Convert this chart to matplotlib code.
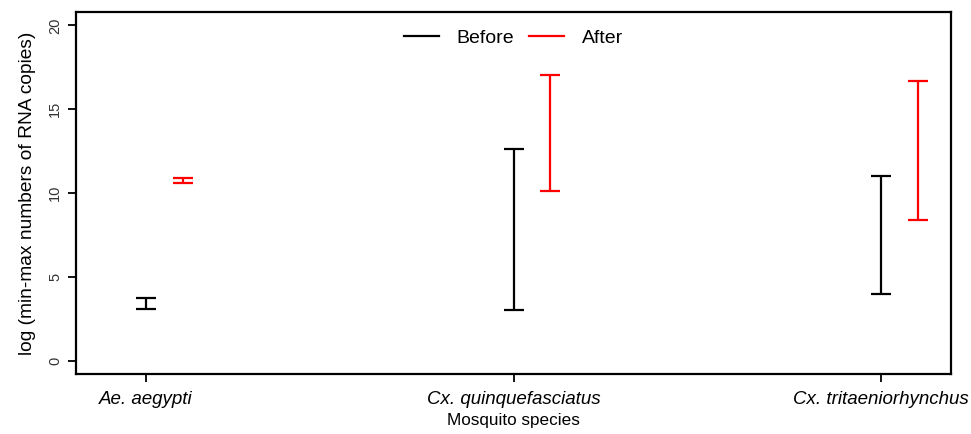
import matplotlib
matplotlib.use("Agg")
import matplotlib.pyplot as plt
from matplotlib.lines import Line2D
import numpy as np

plt.rcParams['font.family'] = ['Liberation Sans', 'DejaVu Sans']

species = ['Ae. aegypti', 'Cx. quinquefasciatus', 'Cx. tritaeniorhynchus']
before_min = [3.1, 3.0, 3.95]
before_max = [3.75, 12.65, 11.0]
after_min = [10.6, 10.1, 8.4]
after_max = [10.9, 17.05, 16.7]

fig = plt.figure(figsize=(9.71, 4.34), dpi=100)
ax = fig.add_axes([76 / 971, 1 - 374 / 434, (951 - 76) / 971, (374 - 12) / 434])

x = np.arange(1, len(species) + 1)

def draw_range(pos, lo, hi, color, label):
    lo, hi = np.array(lo), np.array(hi)
    mid = (lo + hi) / 2
    err = (hi - lo) / 2
    ax.errorbar(pos, mid, yerr=err, fmt='none', ecolor=color, elinewidth=1.6,
                capsize=7, capthick=1.6, label=label)

draw_range(x, before_min, before_max, 'black', 'Before')
draw_range(x + 0.1, after_min, after_max, '#ff0000', 'After')

ax.set_xlim(0.81, 3.19)
ax.set_ylim(-0.8, 20.8)
ax.set_xticks(x)
ax.set_xticklabels(species, style='italic', fontsize=13.5)
ax.set_yticks([0, 5, 10, 15, 20])
ax.set_yticklabels(['0', '5', '10', '15', '20'], rotation=90, va='center',
                   fontsize=10.5, color='#333333')
ax.tick_params(direction='out', length=6, width=1.3)
ax.tick_params(axis='x', pad=6)
ax.tick_params(axis='y', pad=4)
for s in ax.spines.values():
    s.set_linewidth(1.6)

ax.set_ylabel('log (min-max numbers of RNA copies)', fontsize=13.8, labelpad=9)
ax.set_xlabel('Mosquito species', fontsize=12.3, labelpad=4)

h = [Line2D([], [], color='black', lw=1.6), Line2D([], [], color='#ff0000', lw=1.6)]
ax.legend(h, ['Before', 'After'], loc='upper center', ncol=2, frameon=False,
          fontsize=14, handlelength=1.8, handletextpad=0.9, columnspacing=0.8,
          bbox_to_anchor=(0.5, 1.0))

fig.savefig('out.png', dpi=100)
